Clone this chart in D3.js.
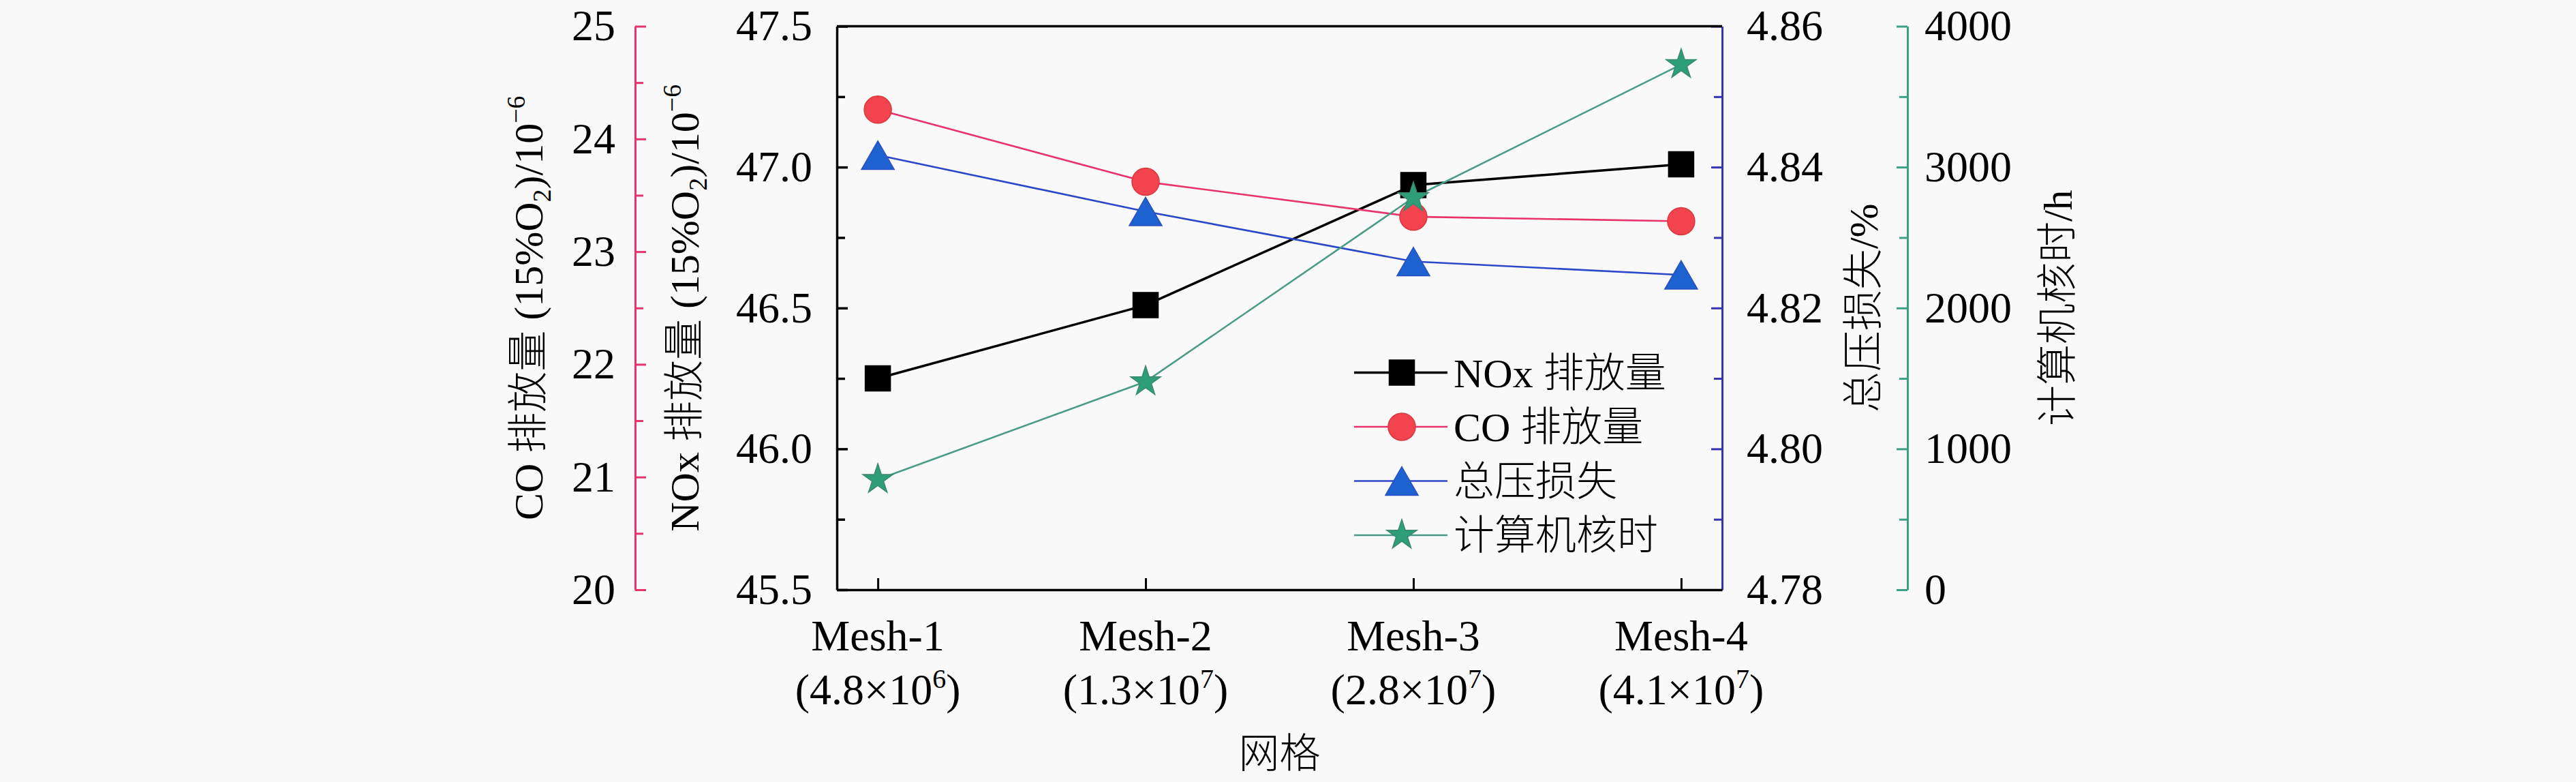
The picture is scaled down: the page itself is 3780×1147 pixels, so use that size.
<!DOCTYPE html>
<html>
<head>
<meta charset="utf-8">
<script src="https://cdn.jsdelivr.net/npm/d3@7"></script>
<style>
  html, body { margin: 0; padding: 0; background: #f9f9f9; }
  svg text { font-family: 'Liberation Serif', 'Noto Sans CJK SC', serif; fill: #000; }
  svg text.cjk { font-weight: 300; }
</style>
</head>
<body>
<div id="chart"></div>
<script>
const categories = ['Mesh-1', 'Mesh-2', 'Mesh-3', 'Mesh-4']
const cellMantissa = ['4.8', '1.3', '2.8', '4.1']
const cellExponent = ['6', '7', '7', '7']
const noxValues = [46.25, 46.51, 46.936, 47.01]
const coValues = [24.26, 23.62, 23.31, 23.27]
const pressureLoss = [4.8417, 4.8337, 4.8266, 4.8247]
const coreHours = [783, 1477, 2783, 3728]
const noxTicks = [45.5, 46.0, 46.5, 47.0, 47.5]
const coTicks = [20, 21, 22, 23, 24, 25]
const pressureTicks = [4.78, 4.80, 4.82, 4.84, 4.86]
const coreTicks = [0, 1000, 2000, 3000, 4000]
const legendLabels = ['NOx 排放量', 'CO 排放量', '总压损失', '计算机核时']

const width = 3780
const height = 1147
const plot = { left: 1228, right: 2527, top: 38.5, bottom: 865 }
const coAxisX = 932
const coreAxisX = 2799

const svg = d3.select('#chart').append('svg')
  .attr('width', width).attr('height', height)
  .style('background', '#f9f9f9')

const x = d3.scalePoint().domain(categories).range([plot.left, plot.right]).padding(0.153)
const yNox = d3.scaleLinear().domain([45.5, 47.5]).range([plot.bottom, plot.top])
const yCo = d3.scaleLinear().domain([20, 25]).range([plot.bottom, plot.top])
const yP = d3.scaleLinear().domain([4.78, 4.86]).range([plot.bottom, plot.top])
const yCore = d3.scaleLinear().domain([0, 4000]).range([plot.bottom, plot.top])

// minor ticks halfway between the majors
function minors (ticks) {
  const out = []
  for (let i = 0; i < ticks.length - 1; i++) out.push((ticks[i] + ticks[i + 1]) / 2)
  return out
}

function styleAxis (g, color, lw) {
  g.select('.domain').attr('stroke', color).attr('stroke-width', lw)
  g.selectAll('.tick line').attr('stroke', color).attr('stroke-width', lw)
  g.selectAll('.tick text').attr('font-size', 64).style('font-family', "'Liberation Serif', serif")
  g.attr('font-family', null).attr('font-size', null)
}

function drawAxis (axisFn, scale, xPos, ticks, fmt, inner, minorLen, pad, color, lw) {
  const gMinor = svg.append('g').attr('transform', 'translate(' + xPos + ',0)')
    .call(axisFn(scale).tickValues(minors(ticks)).tickFormat('').tickSizeInner(minorLen).tickSizeOuter(0))
  styleAxis(gMinor, color, lw)
  gMinor.select('.domain').remove()
  const g = svg.append('g').attr('transform', 'translate(' + xPos + ',0)')
    .call(axisFn(scale).tickValues(ticks).tickFormat(fmt).tickSizeInner(inner).tickSizeOuter(0).tickPadding(pad))
  styleAxis(g, color, lw)
  return g
}

// CO axis (offset, left)
drawAxis(d3.axisLeft, yCo, coAxisX, coTicks, d3.format('d'), -16, -12, 29, '#e8336b', 3)
// NOx axis (plot left)
drawAxis(d3.axisLeft, yNox, plot.left, noxTicks, d3.format('.1f'), -16, -12, 36, '#000', 3.5)
// pressure loss axis (plot right)
drawAxis(d3.axisRight, yP, plot.right, pressureTicks, d3.format('.2f'), -16, -12, 36, '#3434b0', 3)
// core hours axis (offset, right)
drawAxis(d3.axisRight, yCore, coreAxisX, coreTicks, d3.format('d'), -16, -12, 25, '#3aa083', 3)

// top border
svg.append('line')
  .attr('x1', plot.left).attr('x2', plot.right)
  .attr('y1', plot.top).attr('y2', plot.top)
  .attr('stroke', '#000').attr('stroke-width', 3.5)

// bottom axis
const gx = svg.append('g').attr('transform', 'translate(0,' + plot.bottom + ')')
  .call(d3.axisBottom(x).tickSizeInner(-17).tickSizeOuter(0).tickFormat(''))
gx.select('.domain').attr('stroke', '#000').attr('stroke-width', 3.5)
gx.selectAll('.tick line').attr('stroke', '#000').attr('stroke-width', 3)

const xl = svg.append('g')
categories.forEach(function (c, i) {
  xl.append('text').attr('x', x(c)).attr('y', 954)
    .attr('text-anchor', 'middle').attr('font-size', 64).text(c)
  const t = xl.append('text').attr('x', x(c)).attr('y', 1033)
    .attr('text-anchor', 'middle').attr('font-size', 64)
  t.append('tspan').text('(' + cellMantissa[i] + '×10')
  t.append('tspan').attr('font-size', 40).attr('dy', -24).text(cellExponent[i])
  t.append('tspan').attr('dy', 24).text(')')
})

svg.append('text').attr('class', 'cjk').attr('x', (plot.left + plot.right) / 2).attr('y', 1126)
  .attr('text-anchor', 'middle').attr('font-size', 60).text('网格')

// rotated axis titles
function emissionTitle (xPos, species) {
  const t = svg.append('text').attr('class', 'cjk')
    .attr('transform', 'translate(' + xPos + ',' + ((plot.top + plot.bottom) / 2) + ') rotate(-90)')
    .attr('text-anchor', 'middle').attr('font-size', 60)
  t.append('tspan').text(species + ' 排放量 (15%O')
  t.append('tspan').attr('font-size', 38).attr('dy', 12).text('2')
  t.append('tspan').attr('dy', -12).text(')/10')
  t.append('tspan').attr('font-size', 38).attr('dy', -26).text('−6')
}
emissionTitle(796, 'CO')
emissionTitle(1025, 'NOx')

function plainTitle (xPos, label) {
  svg.append('text').attr('class', 'cjk')
    .attr('transform', 'translate(' + xPos + ',' + ((plot.top + plot.bottom) / 2) + ') rotate(-90)')
    .attr('text-anchor', 'middle').attr('font-size', 60).text(label)
}
plainTitle(2755, '总压损失/%')
plainTitle(3040, '计算机核时/h')

// series
const triangle = {
  draw: function (ctx, size) {
    const w = Math.sqrt(size * 4 / Math.sqrt(3))
    const h = w * 0.87
    ctx.moveTo(0, -h / 2)
    ctx.lineTo(w / 2, h / 2)
    ctx.lineTo(-w / 2, h / 2)
    ctx.closePath()
  }
}

const series = [
  { values: noxValues, y: yNox, line: '#000', lw: 3.5, fill: '#000', stroke: '#000', symbol: d3.symbolSquare, size: 1369 },
  { values: coValues, y: yCo, line: '#e8336b', lw: 2.6, fill: '#f2434f', stroke: '#d8383f', symbol: d3.symbolCircle, size: 1257 },
  { values: pressureLoss, y: yP, line: '#2a48c8', lw: 2.6, fill: '#1e62d2', stroke: '#2a50c0', symbol: triangle, size: 1000 },
  { values: coreHours, y: yCore, line: '#4a9c88', lw: 2.6, fill: '#2e9e78', stroke: '#3a8a70', symbol: d3.symbolStar, size: 600 }
]

series.forEach(function (s) {
  svg.append('path')
    .datum(s.values)
    .attr('fill', 'none').attr('stroke', s.line).attr('stroke-width', s.lw)
    .attr('d', d3.line().x(function (d, i) { return x(categories[i]) }).y(function (d) { return s.y(d) }))
})

series.forEach(function (s) {
  svg.selectAll(null)
    .data(s.values)
    .enter()
    .append('path')
    .attr('transform', function (d, i) { return 'translate(' + x(categories[i]) + ',' + s.y(d) + ')' })
    .attr('d', d3.symbol(s.symbol, s.size))
    .attr('fill', s.fill).attr('stroke', s.stroke).attr('stroke-width', 1.5)
})

// legend
const legendY = d3.scaleLinear().domain([0, 3]).range([546.5, 785])
const legend = svg.append('g')
series.forEach(function (s, i) {
  const yy = legendY(i)
  legend.append('line').attr('x1', 1987).attr('x2', 2124).attr('y1', yy).attr('y2', yy)
    .attr('stroke', s.line).attr('stroke-width', s.lw)
  legend.append('path').attr('transform', 'translate(2057,' + yy + ')')
    .attr('d', d3.symbol(s.symbol, s.size))
    .attr('fill', s.fill).attr('stroke', s.stroke).attr('stroke-width', 1.5)
  legend.append('text').attr('class', 'cjk').attr('x', 2133).attr('y', yy + 21)
    .attr('font-size', 60).text(legendLabels[i])
})
</script>
</body>
</html>
